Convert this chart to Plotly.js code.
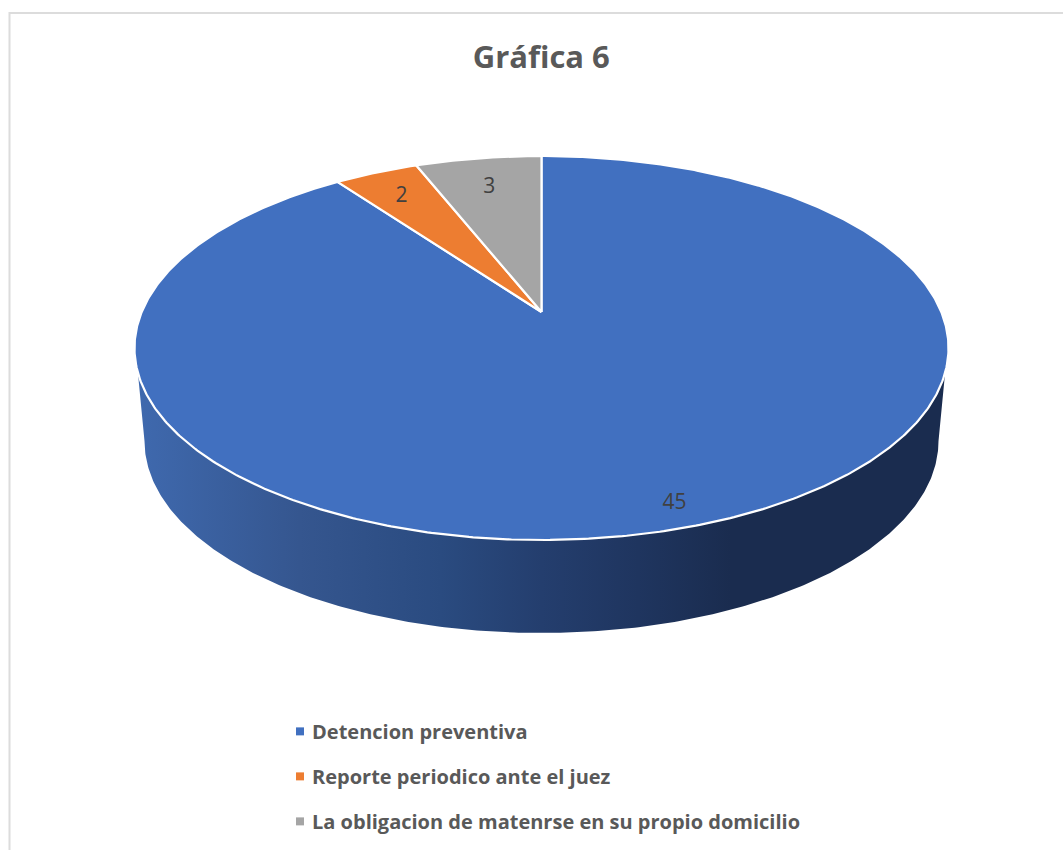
<!DOCTYPE html>
<html>
<head>
<meta charset="utf-8">
<script src="https://cdn.plot.ly/plotly-3.0.1.min.js"></script>
<style>html,body{margin:0;padding:0;background:#fff;overflow:hidden}#chart{width:1063px;height:850px}</style>
</head>
<body>
<div id="chart"></div>
<script>
const chartTitle = 'Gráfica 6';
const categories = ['Detencion preventiva', 'Reporte periodico ante el juez', 'La obligacion de matenrse en su propio domicilio'];
const values = [45, 2, 3];
const sliceColors = ['#4170c0', '#ed7d31', '#a5a5a5'];
const labelRadius = [0.903, 0.825, 0.8];

// Tilted-disc projection (perspective) of the pie onto the page
const cx = 541.5, S = 399.8, a = -126.75, b = 312, c = 0.1875, depth = 93, bottomScale = 0.9754;
function project(deg, r, isBottom) {
  const t = deg * Math.PI / 180, u = r * Math.sin(t), v = r * Math.cos(t), w = 1 + c * v;
  return [cx + S * u / w * (isBottom ? bottomScale : 1), (a * v + b) / w + (isBottom ? depth : 0)];
}
function arc(from, to, isBottom) {
  const n = Math.max(2, Math.ceil(Math.abs(to - from) * 2)), pts = [];
  for (let i = 0; i <= n; i++) pts.push(project(from + (to - from) * i / n, 1, isBottom));
  return pts;
}

const total = values.reduce((s, x) => s + x, 0);
let cum = 0;
const slices = values.map(v => {
  const start = cum / total * 360; cum += v;
  return {start, end: cum / total * 360};
});

const traces = [];

// Side wall of the pie (only the first slice faces the viewer)
const wallPts = arc(108, 252, false).concat(arc(259.2, 100.8, true));
traces.push({
  type: 'scatter', mode: 'lines', x: wallPts.map(p => p[0]), y: wallPts.map(p => p[1]),
  fill: 'toself', line: {width: 0}, hoverinfo: 'skip', showlegend: false,
  fillgradient: {type: 'horizontal', start: 138, stop: 945, colorscale: [
    [0, '#3f69ae'], [0.2, '#35568f'], [0.375, '#2a4b80'], [0.5, '#243e6e'],
    [0.62, '#1f355f'], [0.735, '#1a2c4f'], [1, '#1a2c4f']]}
});

// Top faces
slices.forEach((s, i) => {
  const pts = [project(0, 0, false)].concat(arc(s.start, s.end, false), [project(0, 0, false)]);
  traces.push({
    type: 'scatter', mode: 'lines', x: pts.map(p => p[0]), y: pts.map(p => p[1]),
    fill: 'toself', fillcolor: sliceColors[i], line: {color: '#ffffff', width: 2.2},
    name: categories[i], hoverinfo: 'name+text', text: String(values[i]), showlegend: false
  });
});

// Data labels
const labelPts = slices.map((s, i) => project((s.start + s.end) / 2, labelRadius[i], false));
traces.push({
  type: 'scatter', mode: 'text', x: labelPts.map(p => p[0]), y: labelPts.map(p => p[1] + 2.5),
  text: values.map(String), textposition: 'middle center',
  textfont: {family: '"Open Sans", sans-serif', size: 21, color: '#404040'},
  hoverinfo: 'skip', showlegend: false
});

// Legend entries
categories.forEach((name, i) => {
  traces.push({
    type: 'scatter', mode: 'markers', x: [null], y: [null], name, legendgroup: 'g' + i,
    marker: {symbol: 'square', size: 8, color: sliceColors[i]}, hoverinfo: 'skip'
  });
});

const layout = {
  width: 1063, height: 850, margin: {l: 0, r: 0, t: 0, b: 0},
  paper_bgcolor: '#ffffff', plot_bgcolor: '#ffffff',
  title: {text: '<b>' + chartTitle + '</b>', x: 0.5092, xanchor: 'center', y: 0.9325, yanchor: 'middle',
    font: {family: '"Open Sans", sans-serif', size: 31, color: '#595959'}},
  xaxis: {range: [0, 1063], visible: false, fixedrange: true},
  yaxis: {range: [850, 0], visible: false, fixedrange: true},
  showlegend: true,
  legend: {x: 0.2559, xanchor: 'left', y: 0.1625, yanchor: 'top', bgcolor: 'rgba(0,0,0,0)',
    tracegroupgap: 16, traceorder: 'grouped',
    font: {family: '"Open Sans", sans-serif', size: 20, color: '#595959', weight: 700}},
  shapes: [{type: 'path', xref: 'x', yref: 'y', path: 'M9.5,850 L9.5,13 L1063,13',
    line: {color: '#dcdcdc', width: 2}}]
};

Plotly.newPlot('chart', traces, layout, {displayModeBar: false, staticPlot: true}).then(() => {
  document.querySelectorAll('#chart .legend .legendpoints').forEach(g => g.setAttribute('transform', 'translate(8,0)'));
});
</script>
</body>
</html>
